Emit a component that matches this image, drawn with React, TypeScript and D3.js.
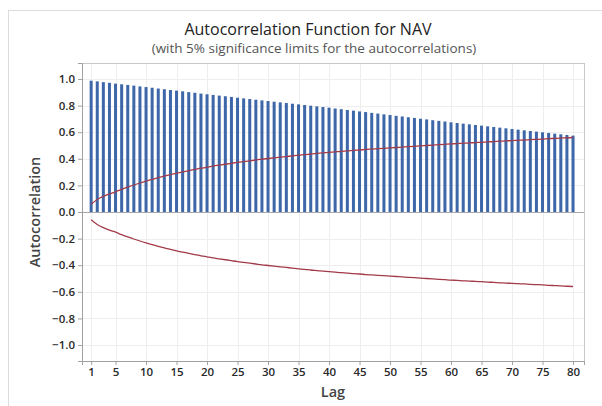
import * as d3 from "d3"
import React, { useEffect, useRef } from "react"

// lags 1..80
const lags = d3.range(1, 81)

// autocorrelation
const acf = [
  0.987, 0.982, 0.976, 0.971, 0.965, 0.960, 0.955, 0.950, 0.944, 0.939,
  0.934, 0.928, 0.923, 0.917, 0.912, 0.907, 0.901, 0.896, 0.890, 0.885,
  0.880, 0.875, 0.870, 0.865, 0.859, 0.854, 0.849, 0.844, 0.839, 0.834,
  0.829, 0.824, 0.819, 0.814, 0.809, 0.804, 0.799, 0.794, 0.789, 0.784,
  0.778, 0.773, 0.767, 0.762, 0.756, 0.751, 0.745, 0.740, 0.734, 0.729,
  0.723, 0.718, 0.712, 0.707, 0.701, 0.696, 0.690, 0.685, 0.680, 0.674,
  0.669, 0.664, 0.659, 0.654, 0.649, 0.644, 0.639, 0.634, 0.629, 0.624,
  0.619, 0.614, 0.609, 0.604, 0.599, 0.594, 0.589, 0.584, 0.579, 0.574,
]

// 5% significance limit (upper; lower is the mirror)
const limit = [
  0.058, 0.094, 0.117, 0.136, 0.152, 0.170, 0.187, 0.203, 0.218, 0.232,
  0.245, 0.258, 0.270, 0.281, 0.292, 0.302, 0.311, 0.320, 0.329, 0.337,
  0.345, 0.352, 0.359, 0.366, 0.373, 0.379, 0.385, 0.391, 0.397, 0.402,
  0.407, 0.412, 0.417, 0.422, 0.427, 0.431, 0.436, 0.440, 0.444, 0.448,
  0.452, 0.456, 0.459, 0.463, 0.466, 0.470, 0.473, 0.476, 0.479, 0.482,
  0.485, 0.488, 0.491, 0.494, 0.497, 0.500, 0.503, 0.506, 0.509, 0.512,
  0.514, 0.517, 0.519, 0.522, 0.524, 0.527, 0.529, 0.532, 0.534, 0.537,
  0.539, 0.541, 0.544, 0.546, 0.548, 0.551, 0.553, 0.555, 0.558, 0.560,
]

const xTicks = [1, 5, 10, 15, 20, 25, 30, 35, 40, 45, 50, 55, 60, 65, 70, 75, 80]
const yTicks = [-1.0, -0.8, -0.6, -0.4, -0.2, 0.0, 0.2, 0.4, 0.6, 0.8, 1.0]

const title = "Autocorrelation Function for NAV"
const subtitle = "(with 5% significance limits for the autocorrelations)"
const xLabel = "Lag"
const yLabel = "Autocorrelation"

export default function App() {
  const ref = useRef<SVGSVGElement>(null)

  useEffect(() => {
    const svg = d3.select(ref.current)
    svg.selectAll("*").remove()

    const font = "'Open Sans', 'Noto Sans', sans-serif"
    const plot = { left: 82, right: 584, top: 63, bottom: 361 }

    const xScale = d3.scaleLinear().domain([-0.5, 81.8]).range([plot.left, plot.right])
    const yScale = d3.scaleLinear().domain([-1.12, 1.12]).range([plot.bottom, plot.top])

    // outer frame
    svg.append("rect")
      .attr("x", 8.5).attr("y", 10.5)
      .attr("width", 600).attr("height", 400)
      .attr("fill", "#fff")
      .attr("stroke", "#dcdcdc")

    // titles
    svg.append("text")
      .attr("x", 308).attr("y", 35)
      .attr("text-anchor", "middle")
      .style("font-family", font).style("font-size", "16px").style("font-weight", "500")
      .attr("fill", "#222")
      .text(title)
    svg.append("text")
      .attr("x", 314).attr("y", 53)
      .attr("text-anchor", "middle")
      .style("font-family", font).style("font-size", "13.5px")
      .attr("fill", "#555")
      .text(subtitle)

    // grid
    const grid = svg.append("g").attr("stroke", "#eeeeee").attr("stroke-width", 1)
    yTicks.forEach(t => {
      grid.append("line")
        .attr("x1", plot.left).attr("x2", plot.right)
        .attr("y1", Math.round(yScale(t)) + 0.5).attr("y2", Math.round(yScale(t)) + 0.5)
    })
    xTicks.forEach(t => {
      grid.append("line")
        .attr("x1", Math.round(xScale(t)) + 0.5).attr("x2", Math.round(xScale(t)) + 0.5)
        .attr("y1", plot.top).attr("y2", plot.bottom)
    })

    // plot border
    svg.append("rect")
      .attr("x", plot.left + 0.5).attr("y", plot.top + 0.5)
      .attr("width", plot.right - plot.left).attr("height", plot.bottom - plot.top)
      .attr("fill", "none").attr("stroke", "#c8c8c8")

    // zero line
    svg.append("line")
      .attr("x1", plot.left).attr("x2", plot.right)
      .attr("y1", Math.round(yScale(0)) + 0.5).attr("y2", Math.round(yScale(0)) + 0.5)
      .attr("stroke", "#a8a8a8")

    // bars
    svg.append("g")
      .selectAll("rect")
      .data(acf)
      .join("rect")
        .attr("x", (d, i) => xScale(lags[i]) - 1.5)
        .attr("width", 3)
        .attr("y", d => yScale(d))
        .attr("height", d => yScale(0) - yScale(d))
        .attr("fill", "#3d67a8")

    // significance limits
    const upper = d3.line<number>()
      .x((d, i) => xScale(lags[i]))
      .y(d => yScale(d))
      .curve(d3.curveMonotoneX)
    const lower = d3.line<number>()
      .x((d, i) => xScale(lags[i]))
      .y(d => yScale(-d))
      .curve(d3.curveMonotoneX)
    svg.append("path")
      .datum(limit)
      .attr("fill", "none").attr("stroke", "#a33a48").attr("stroke-width", 1.3)
      .attr("d", upper)
    svg.append("path")
      .datum(limit)
      .attr("fill", "none").attr("stroke", "#a33a48").attr("stroke-width", 1.3)
      .attr("d", lower)

    // axes
    const yAxis = svg.append("g")
      .attr("transform", "translate(" + plot.left + ",0)")
      .call(d3.axisLeft(yScale).tickValues(yTicks).tickSize(4).tickFormat(d3.format(".1f")))
    const xAxis = svg.append("g")
      .attr("transform", "translate(0," + plot.bottom + ")")
      .call(d3.axisBottom(xScale).tickValues(xTicks).tickSize(4).tickFormat(d3.format("d")))
    ;[yAxis, xAxis].forEach(ax => {
      ax.select(".domain").attr("stroke", "#a0a0a0")
      ax.selectAll(".tick line").attr("stroke", "#a0a0a0")
      ax.selectAll("text")
        .style("font-family", font).style("font-size", "11.5px").style("font-weight", "600")
        .attr("fill", "#2a2a2a")
    })

    // axis labels
    svg.append("text")
      .attr("x", (plot.left + plot.right) / 2).attr("y", 397)
      .attr("text-anchor", "middle")
      .style("font-family", font).style("font-size", "14.5px").style("font-weight", "600")
      .attr("fill", "#444")
      .text(xLabel)
    svg.append("text")
      .attr("transform", "translate(40," + yScale(0) + ") rotate(-90)")
      .attr("text-anchor", "middle")
      .style("font-family", font).style("font-size", "14.5px").style("font-weight", "600")
      .attr("fill", "#444")
      .text(yLabel)
  }, [])

  return (
    <svg ref={ref} width={602} height={406}
      style={{ position: "absolute", left: 0, top: 0, background: "#fff" }} />
  )
}
